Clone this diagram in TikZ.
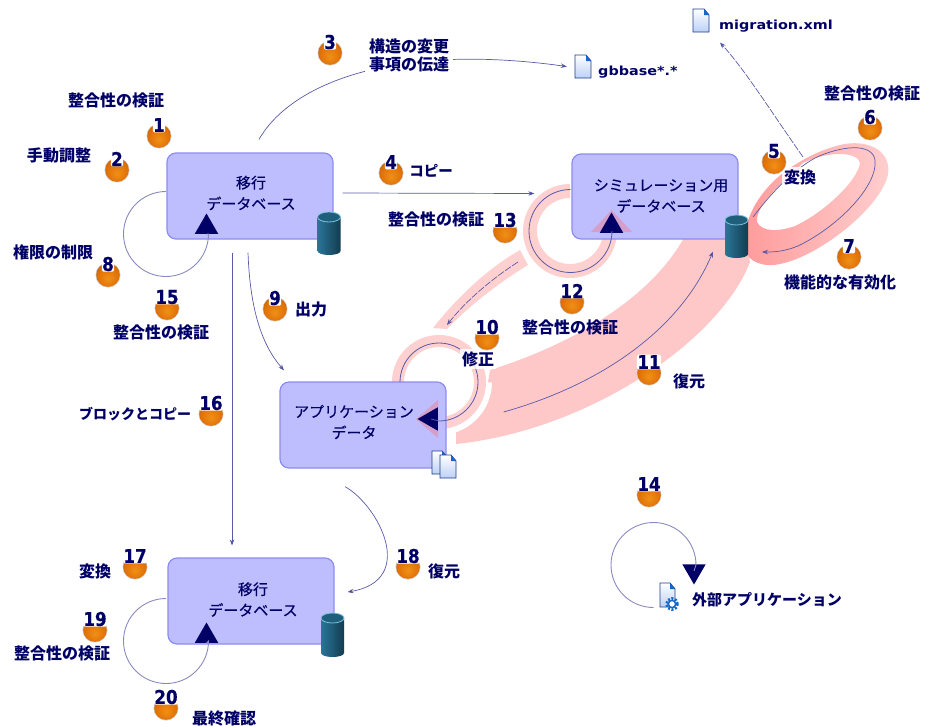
\documentclass[tikz,border=0pt]{standalone}
\usepackage{fontspec}
\setmainfont{DejaVu Sans}
\newfontfamily\jp{Noto Sans CJK JP}
\newfontfamily\jpm[FakeBold=0.35]{Noto Sans CJK JP}
\newfontfamily\fnm[FakeStretch=1.15]{DejaVu Sans}
\newfontfamily\numf[FakeStretch=0.88,FakeBold=0.5]{DejaVu Sans Bold}
\usetikzlibrary{shapes.geometric,arrows.meta}
\definecolor{navy}{HTML}{000066}
\definecolor{boxfill}{HTML}{BEBEFF}
\definecolor{boxline}{HTML}{8C8CF0}
\definecolor{bandpink}{HTML}{FFC8C8}
\definecolor{ringpink}{HTML}{FFD0D0}
\definecolor{banddark}{HTML}{FF9A9A}
\definecolor{flowc}{HTML}{5A5AA8}
\definecolor{loopc}{HTML}{8A8AC0}
\definecolor{docline}{HTML}{1F3F86}
\definecolor{docfill}{HTML}{BCD0F6}
\definecolor{gearc}{HTML}{1466C8}
\definecolor{cylL}{HTML}{2A7598}
\definecolor{cylM}{HTML}{5FB5D5}
\definecolor{cylR}{HTML}{123C50}
\definecolor{cylT}{HTML}{1F5F7C}
\definecolor{cylE}{HTML}{7CC4DE}
\definecolor{ballA}{HTML}{F09018}
\definecolor{ballB}{HTML}{E27408}
\definecolor{ballC}{HTML}{C05A08}
\definecolor{ballD}{HTML}{7A4A20}
\pgfdeclareradialshading{ballsh}{\pgfpoint{0bp}{-8bp}}{color(0bp)=(ballA); color(20bp)=(ballB); color(38bp)=(ballC); color(50bp)=(ballD)}
\tikzset{
  dbbox/.style={draw=boxline,fill=boxfill,line width=1.2pt,rounded corners=9pt,inner sep=0pt},
  boxtext/.style={font=\jpm\fontsize{15}{21}\selectfont,text=navy,align=center},
  lbl/.style={font=\jp\bfseries\fontsize{16}{18}\selectfont,text=navy,inner sep=0pt,align=center},
  katlbl/.style={lbl,font=\jp\bfseries\fontsize{14.5}{18}\selectfont},
  filename/.style={font=\fnm\bfseries\fontsize{12.5}{14}\selectfont,text=navy,inner sep=0pt,anchor=west},
  flow/.style={draw=flowc,line width=0.7pt,-{Stealth[length=6pt,width=4.5pt,fill=navy]}},
  dashflow/.style={flow,dash pattern=on 7pt off 1.5pt},
  loopline/.style={draw=loopc,line width=0.9pt},
  ringline/.style={draw=flowc,line width=0.8pt},
  tri/.style={regular polygon,regular polygon sides=3,fill=navy,minimum size=27pt,inner sep=0pt},
  anch/.style={inner sep=0pt,minimum size=0pt},
  halo/.style={draw=white,line width=24pt},
  ballnum/.style={font=\numf\fontsize{19}{19}\selectfont,text=navy,inner sep=0.4pt,fill=white,rounded corners=1.5pt}
}
\newcommand{\ball}[4]{% name,x,y,num
  \fill[gray!40] (#2,#3) circle (12.5pt);
  \shade[shading=ballsh] (#2,#3) circle (11.8pt);
  \node[ballnum] (#1) at (#2,#3-11) {#4};
}
\newcommand{\cyl}[4]{% name,cx,top,bottom
  \coordinate (#1) at (#2,#3);
  \shade[left color=cylL,middle color=cylM,right color=cylR]
    (#2-11.5,#3+5) -- (#2-11.5,#4-4) arc[start angle=180,end angle=360,x radius=11.5pt,y radius=4pt] -- (#2+11.5,#3+5) -- cycle;
  \fill[cylT] (#2,#3+5) ellipse (11.5pt and 5pt);
  \draw[cylE,line width=0.8pt] (#2,#3+5) ellipse (11.5pt and 5pt);
}
\newcommand{\docshape}[4]{% x0,y0,x1,y1
  \shade[top color=white,bottom color=docfill,draw=docline,line width=0.9pt]
    (#1,#2) -- (#3-5,#2) -- (#3,#2+6) -- (#3,#4) -- (#1,#4) -- cycle;
  \fill[gearc] (#3-5,#2) -- (#3,#2+6) -- (#3-5,#2+6) -- cycle;
}
\newcommand{\selfloop}[4]{% name,cx,cy,r : named quadrant points
  \coordinate (#1t) at (#2,#3-#4);
  \coordinate (#1l) at (#2-#4,#3);
  \coordinate (#1b) at (#2,#3+#4);
  \coordinate (#1r) at (#2+#4,#3);
}
\begin{document}
\begin{tikzpicture}[x=1pt,y=-1pt]
\useasboundingbox (0,0) rectangle (933,726);
% big band 11
\fill[bandpink] (456,432) .. controls (472,421) and (486,402) .. (490,370)
  .. controls (570,345) and (650,300) .. (685,236) -- (745,236) -- (750,262)
  .. controls (720,340) and (590,430) .. (456,444) -- cycle;
% ellipse band 5-6-7
\shade[even odd rule,left color=banddark,right color=ringpink]
  (790,168) .. controls (768,182) and (740,215) .. (745,250)
  .. controls (748,262) and (765,268) .. (780,264)
  .. controls (825,255) and (895,195) .. (888,165)
  .. controls (884,145) and (860,140) .. (840,145)
  .. controls (820,150) and (805,158) .. (790,168) -- cycle
  (803,163) .. controls (785,180) and (755,205) .. (757,222)
  .. controls (762,232) and (778,232) .. (795,226)
  .. controls (825,212) and (858,180) .. (860,163)
  .. controls (858,152) and (830,150) .. (803,163) -- cycle;
% connecting band 12-10
\fill[ringpink] (520,250) -- (528,265) .. controls (495,285) and (465,310) .. (447,329) -- (433,328)
  .. controls (455,300) and (485,270) .. (520,250) -- cycle;
% rings
\draw[halo] plot[domain=100:360,samples=50] ({439+41*cos(\x)},{382-41*sin(\x)});
\draw[draw=ringpink,line width=12pt] plot[domain=180:-90,samples=60] ({439+41*cos(\x)},{382-41*sin(\x)});
\draw[draw=ringpink,line width=14pt] plot[domain=90:360,samples=60] ({570+40*cos(\x)},{231-40*sin(\x)});
% boxes
\node[dbbox,minimum width=166pt,minimum height=86pt,label={[boxtext,xshift=1pt,yshift=3pt]center:移行\\データベース}] (box1) at (250,196) {};
\node[dbbox,minimum width=166pt,minimum height=85pt,label={[boxtext,xshift=6pt,yshift=0.5pt]center:シミュレーション用\\データベース}] (sim) at (655,196.5) {};
\node[dbbox,minimum width=166pt,minimum height=86pt,label={[boxtext,xshift=-9pt,yshift=3pt]center:アプリケーション\\データ}] (app) at (363,425) {};
\node[dbbox,minimum width=166pt,minimum height=86pt,label={[boxtext,xshift=2pt,yshift=1.5pt]center:移行\\データベース}] (box3) at (251,601) {};
% cylinders
\cyl{cyla}{329}{212}{255}
\cyl{cylb}{736.5}{215}{258}
\cyl{cylc}{332.5}{613}{657}
% file icons
\node[anch,minimum width=16pt,minimum height=23pt] (migfile) at (701,20.5) {};
\docshape{693}{9}{709}{32}
\node[anch,minimum width=16pt,minimum height=23pt] (gbfile) at (583,66.5) {};
\docshape{575}{55}{591}{78}
\docshape{432}{451}{447}{474}
\docshape{440}{455}{456}{478}
\node[anch,minimum width=15pt,minimum height=24pt] (extfile) at (667.5,595) {};
\docshape{660}{583}{675}{607}
\draw[gearc,line width=2.6pt,dash pattern=on 2pt off 1.6pt] (672,604) circle (5.6pt);
\draw[gearc,line width=1.4pt,fill=white] (672,604) circle (3.6pt);
% triangles
\fill[red!60!white,opacity=0.35] (591,232) -- (632,232) -- (611.5,210) -- cycle;
\fill[red!60!white,opacity=0.35] (438,400) -- (438,438) -- (416,419) -- cycle;
\node[tri] (tria) at (206.5,227) {};
\node[tri] (trib) at (611.5,226) {};
\node[tri,rotate=90] (tric) at (431,419) {};
\node[tri] (trid) at (206.5,636) {};
\node[tri,rotate=180] (trie) at (694,571) {};
% self loops
\selfloop{la}{166}{234}{42.5}
\draw[loopline] (lat) .. controls +(-23.5,0) and +(0,-23.5) .. (lal) .. controls +(0,23.5) and +(-23.5,0) .. (lab) .. controls +(23.5,0) and +(0,23.5) .. (lar) -- (tria.south);
\selfloop{lb}{166}{641}{42.5}
\draw[loopline] (lbt) .. controls +(-23.5,0) and +(0,-23.5) .. (lbl) .. controls +(0,23.5) and +(-23.5,0) .. (lbb) .. controls +(23.5,0) and +(0,23.5) .. (lbr) -- (trid.south);
\selfloop{lc}{653.5}{565}{42.5}
\draw[loopline] (lcb) .. controls +(-23.5,0) and +(0,23.5) .. (lcl) .. controls +(0,-23.5) and +(-23.5,0) .. (lct) .. controls +(23.5,0) and +(0,-23.5) .. (lcr) -- (trie.center);
\selfloop{ld}{570.5}{231}{41.5}
\draw[ringline] (ldt) .. controls +(-22.9,0) and +(0,-22.9) .. (ldl) .. controls +(0,22.9) and +(-22.9,0) .. (ldb) .. controls +(22.9,0) and +(0,22.9) .. (ldr) -- (trib.south);
\selfloop{le}{439}{382}{39}
\draw[ringline] (lel) .. controls +(0,-21.5) and +(-21.5,0) .. (let) .. controls +(21.5,0) and +(0,-21.5) .. (ler) .. controls +(0,21.5) and +(21.5,0) .. (leb) -- (tric.center);
% ellipse line 5-6-7
\draw[flow] ([xshift=16.5pt,yshift=-2pt]cylb) .. controls (770,195) and (790,172) .. (815,158)
  .. controls (840,146) and (872,142) .. (875,160)
  .. controls (878,185) and (840,225) .. (800,245)
  .. controls (785,252) and (772,252) .. (762,252);
% connectors
\draw[flow] ([xshift=9pt,yshift=13pt]box1.north) .. controls (290,85) and (390,42) .. ([xshift=-8pt,yshift=0pt]gbfile.west);
\draw[flow] ([xshift=9pt,yshift=3pt]box1.east) -- ([xshift=-37pt,yshift=3pt]sim.west);
\draw[flow] ([xshift=-18pt,yshift=-13pt]box1.south) -- ([xshift=-19pt,yshift=12pt]box3.north);
\draw[flow] ([xshift=-2pt,yshift=-13pt]box1.south) .. controls (250,310) and (262,345) .. ([xshift=-79pt,yshift=11pt]app.north);
\draw[flow] ([xshift=-18pt,yshift=-18pt]app.south) .. controls (378,505) and (418,580) .. ([xshift=13pt,yshift=9pt]box3.east);
\coordinate (conv) at (803,157);
\draw[dashflow] (conv) .. controls (770,110) and (745,70) .. ([xshift=19pt,yshift=-22pt]migfile.center);
\draw[flow] ([xshift=57pt,yshift=13pt]app.east) .. controls (600,385) and (680,330) .. ([xshift=58pt,yshift=-12pt]sim.south);
\coordinate (cpa) at (518,262);
\coordinate (cpb) at (447,325);
\draw[dashflow] (cpa) .. controls (490,280) and (465,302) .. (cpb);
% labels
\node[lbl] at (116,100) {整合性の検証};
\node[lbl] at (59,155) {手動調整};
\node[lbl] at (53,252) {権限の制限};
\node[lbl] at (161,332) {整合性の検証};
\node[lbl] at (311,309) {出力};
\node[lbl,fill=white,inner xsep=4pt,inner ysep=2pt] at (409,55) {構造の変更\\事項の伝達};
\node[filename] at (598,72) {gbbase*.*};
\node[filename] at (719,26) {migration.xml};
\node[lbl] at (872,93) {整合性の検証};
\node[lbl,fill=white,fill opacity=0.85,text opacity=1,inner sep=2pt] at (800,177) {変換};
\node[lbl] at (840,282) {機能的な有効化};
\node[katlbl] at (431,171) {コピー};
\node[lbl] at (436,219) {整合性の検証};
\node[lbl] at (570,327) {整合性の検証};
\node[lbl,fill=white,fill opacity=0.85,text opacity=1,inner sep=2pt] at (478,359) {修正};
\node[lbl] at (689,381) {復元};
\node[katlbl,font=\jp\bfseries\fontsize{14}{18}\selectfont] at (135,414) {ブロックとコピー};
\node[lbl] at (95,571) {変換};
\node[lbl] at (62,653) {整合性の検証};
\node[lbl] at (224,718) {最終確認};
\node[lbl] at (444,571) {復元};
\node[katlbl,font=\jp\bfseries\fontsize{15}{18}\selectfont] at (767,600) {外部アプリケーション};
% balls
\ball{b1}{159}{136}{1}
\ball{b2}{117}{170}{2}
\ball{b3}{330}{53}{3}
\ball{b4}{391}{173}{4}
\ball{b5}{774}{162}{5}
\ball{b6}{870}{128}{6}
\ball{b7}{849}{257}{7}
\ball{b8}{108}{275}{8}
\ball{b9}{275}{309}{9}
\ball{b10}{487}{338}{10}
\ball{b11}{649}{373}{11}
\ball{b12}{572}{302}{12}
\ball{b13}{505}{231}{13}
\ball{b14}{649}{495}{14}
\ball{b15}{167}{308}{15}
\ball{b16}{211}{414}{16}
\ball{b17}{135}{567}{17}
\ball{b18}{408}{567}{18}
\ball{b19}{95}{630}{19}
\ball{b20}{166}{708}{20}
\end{tikzpicture}
\end{document}
